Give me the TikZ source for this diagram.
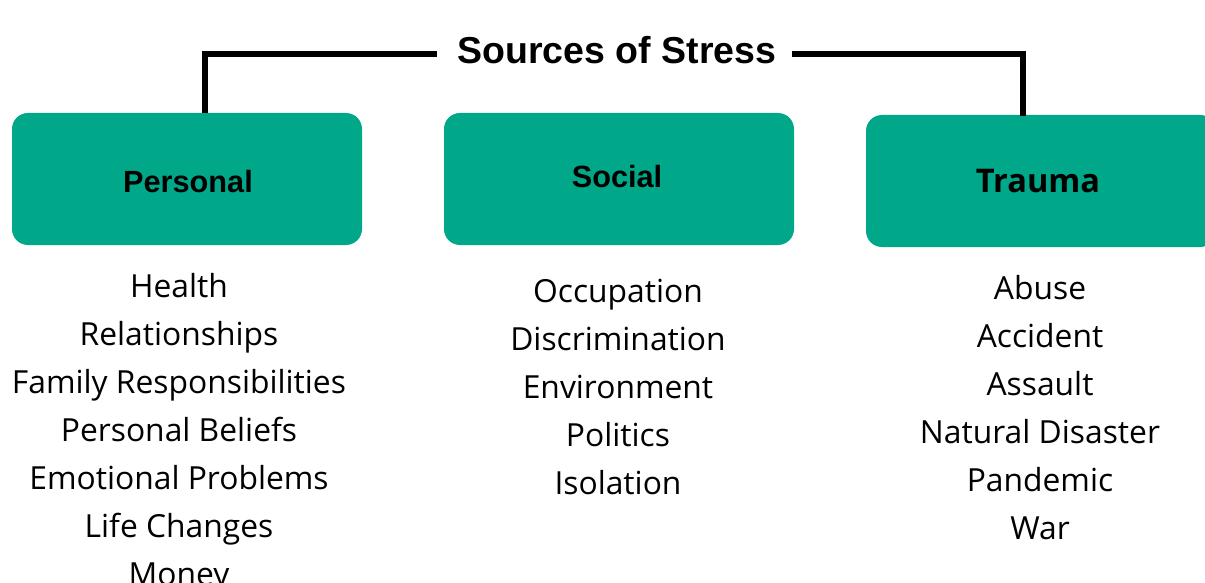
\documentclass[tikz,border=0pt]{standalone}
\usepackage{fontspec}
\setmainfont{Open Sans}
\newfontfamily\headfont{Liberation Sans}
\definecolor{boxgreen}{RGB}{0,168,137}
\begin{document}
\begin{tikzpicture}[x=1pt,y=-1pt,
  catbox/.style={fill=boxgreen,rounded corners=16pt},
  cattext/.style={anchor=base,font=\headfont\bfseries\fontsize{30.7}{36}\selectfont,inner sep=0pt},
  itemtext/.style={anchor=base,font=\fontsize{31.8}{38}\selectfont,inner sep=0pt},
  link/.style={line width=6pt}]
\useasboundingbox (0,0) rectangle (1205,583);
\clip (0,0) rectangle (1205,583);
% boxes
\path[catbox] (12,113) rectangle (362,245);
\path[catbox] (444,113) rectangle (794,245);
\path[catbox] (866,115) rectangle (1216,247);
\node[cattext] (personal) at (188,193) {Personal};
\node[cattext] (social) at (617,187) {Social};
\node[anchor=base,font=\bfseries\fontsize{32.6}{38}\selectfont,inner sep=0pt] (trauma) at (1038,193) {Trauma};
% title
\node[anchor=base,font=\headfont\bfseries\fontsize{37.5}{42}\selectfont,inner sep=0pt] (title) at (617,64) {Sources of Stress};
\coordinate (tl) at (437,54);
\coordinate (tr) at (792,54);
\coordinate (pl) at (205,113);
\coordinate (pr) at (1023,116);
\draw[link] (tl) -| (pl);
\draw[link] (tr) -| (pr);
% lists
\foreach \t [count=\i from 0] in {Health,Relationships,Family Responsibilities,Personal Beliefs,Emotional Problems,Life Changes,Money}
  \node[itemtext] (p\i) at (179,297+48*\i) {\t};
\foreach \t [count=\i from 0] in {Occupation,Discrimination,Environment,Politics,Isolation}
  \node[itemtext] (s\i) at (618,302+48*\i) {\t};
\foreach \t [count=\i from 0] in {Abuse,Accident,Assault,Natural Disaster,Pandemic,War}
  \node[itemtext] (t\i) at (1040,299+48*\i) {\t};
\end{tikzpicture}
\end{document}
